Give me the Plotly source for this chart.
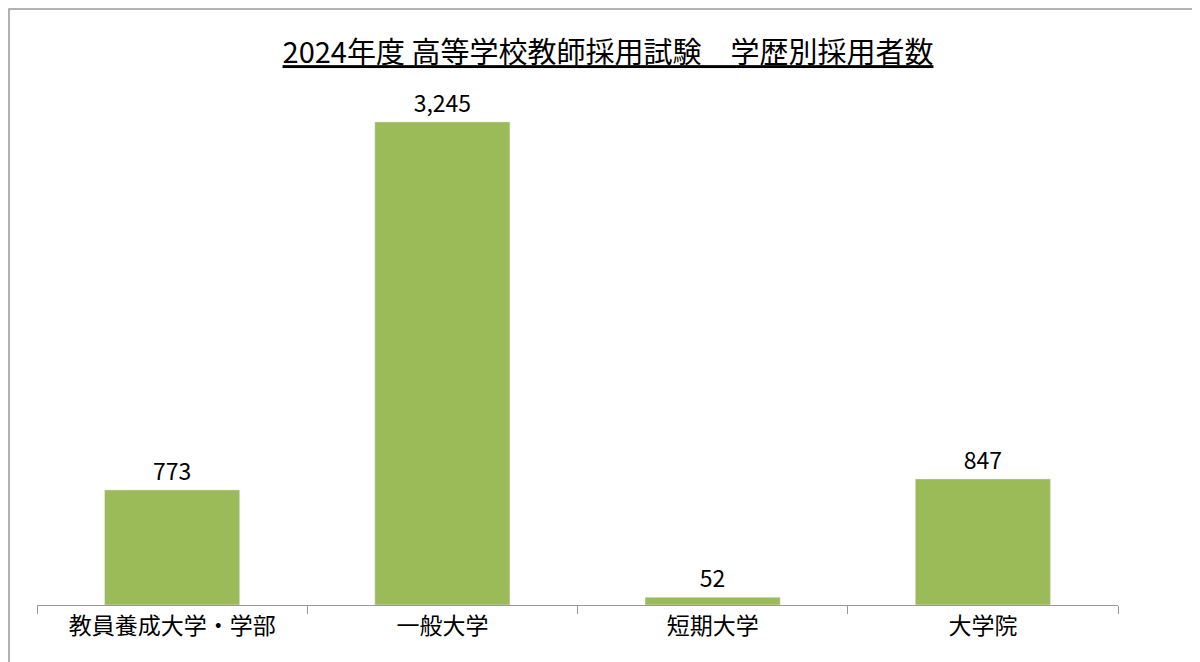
import plotly.graph_objects as go

categories = ["教員養成大学・学部", "一般大学", "短期大学", "大学院"]
values = [773, 3245, 52, 847]
labels = ["773", "3,245", "52", "847"]

W, H = 1200, 662
L, R, T, B = 29, 90, 52, 65
pw, ph = W - L - R, H - T - B

fig = go.Figure(go.Bar(
    x=categories, y=values, text=labels, textposition="outside",
    marker_color="#9BBB59", textfont=dict(size=23, color="black"),
    cliponaxis=False, width=0.5,
))
fig.update_layout(
    width=W, height=H,
    paper_bgcolor="white", plot_bgcolor="white",
    margin=dict(l=L, r=R, t=T, b=B, autoexpand=False),
    font=dict(family="Noto Sans CJK JP", color="black"),
    title=dict(text="<u>2024年度 高等学校教師採用試験　学歴別採用者数</u>",
               x=0.5, xanchor="center", y=1 - 45 / H, yanchor="middle",
               font=dict(size=29)),
    showlegend=False,
    shapes=[dict(type="rect", xref="paper", yref="paper",
                 x0=(1 - L) / pw, x1=1 + (R - 2) / pw,
                 y0=-(B - 2) / ph, y1=1 + (T - 1) / ph,
                 line=dict(color="#999999", width=1.5))],
)
fig.update_xaxes(showline=True, linecolor="#999999", ticks="outside",
                 tickson="boundaries", ticklen=8, tickcolor="#999999",
                 tickfont=dict(size=23), automargin=False)
fig.update_yaxes(visible=False, range=[0, 3661], automargin=False)
fig.write_html("out.html")
